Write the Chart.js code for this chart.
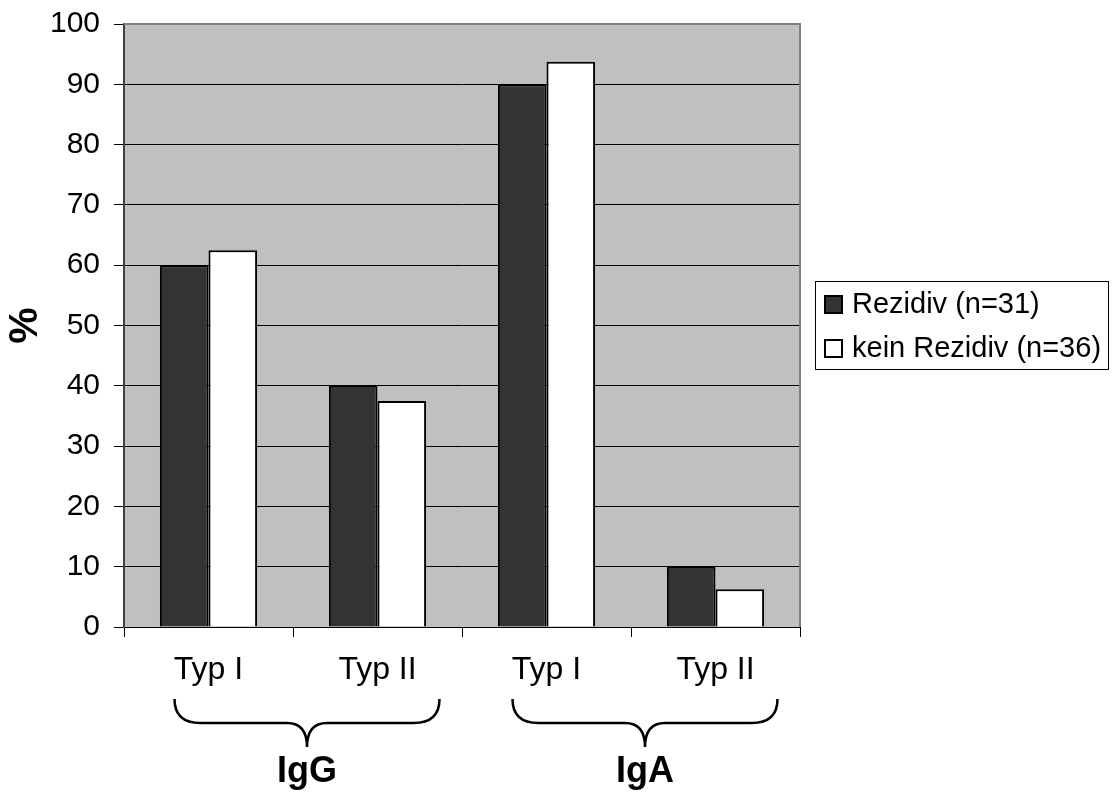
<!DOCTYPE html>
<html>
<head>
<meta charset="utf-8">
<script src="https://cdn.jsdelivr.net/npm/chart.js@4/dist/chart.umd.min.js"></script>
<style>
  body { margin: 0; background: #fff; }
  canvas { display: block; }
</style>
</head>
<body>
<canvas id="chart" width="1112" height="793"></canvas>
<script>
// data
const categories = ['Typ I', 'Typ II', 'Typ I', 'Typ II'];
const groupLabels = ['IgG', 'IgA']; // each spans two categories
const rezidiv = [60, 40, 90, 10];
const keinRezidiv = [62.5, 37.5, 93.75, 6.25];
const seriesNames = ['Rezidiv (n=31)', 'kein Rezidiv (n=36)'];
const yTickValues = [0, 10, 20, 30, 40, 50, 60, 70, 80, 90, 100];

const FONT = '"Liberation Sans", Arial, sans-serif';

// grey plot area with the Excel-like border on top and right
const plotArea = {
  id: 'plotArea',
  beforeDraw(chart) {
    const { ctx, chartArea: a } = chart;
    ctx.save();
    ctx.fillStyle = '#c0c0c0';
    ctx.fillRect(a.left, a.top, a.right - a.left, a.bottom - a.top);
    ctx.restore();
  },
  afterDatasetsDraw(chart) {
    const { ctx, chartArea: a } = chart;
    ctx.save();
    ctx.strokeStyle = '#808080';
    ctx.lineWidth = 2;
    ctx.beginPath();
    ctx.moveTo(a.left, a.top);
    ctx.lineTo(a.right, a.top);
    ctx.lineTo(a.right, a.bottom);
    ctx.stroke();
    ctx.restore();
  },
};

// curly braces + group names under the category labels
const groupBraces = {
  id: 'groupBraces',
  afterDraw(chart) {
    const { ctx } = chart;
    const x = chart.scales.x;
    ctx.save();
    ctx.strokeStyle = '#000';
    ctx.lineWidth = 2.5;
    groupLabels.forEach((name, g) => {
      const x0 = x.getPixelForValue(g * 2) - 34;
      const x1 = x.getPixelForValue(g * 2 + 1) + 62;
      const mid = (x0 + x1) / 2;
      const yTop = 699, yMid = 723, yTip = 747;
      ctx.beginPath();
      ctx.moveTo(x0, yTop);
      ctx.quadraticCurveTo(x0, yMid, x0 + 26, yMid);
      ctx.lineTo(mid - 20, yMid);
      ctx.quadraticCurveTo(mid, yMid, mid, yTip);
      ctx.quadraticCurveTo(mid, yMid, mid + 20, yMid);
      ctx.lineTo(x1 - 26, yMid);
      ctx.quadraticCurveTo(x1, yMid, x1, yTop);
      ctx.stroke();

      ctx.fillStyle = '#000';
      ctx.font = 'bold 36px ' + FONT;
      ctx.textAlign = 'center';
      ctx.textBaseline = 'middle';
      ctx.fillText(name, mid, 772);
    });
    ctx.restore();
  },
};

// boxed legend on the right
const boxLegend = {
  id: 'boxLegend',
  afterDraw(chart) {
    const { ctx } = chart;
    ctx.save();
    ctx.strokeStyle = '#000';
    ctx.lineWidth = 1;
    ctx.strokeRect(815.5, 281.5, 293, 88);
    ctx.font = '29px ' + FONT;
    ctx.textBaseline = 'middle';
    ctx.textAlign = 'left';
    chart.data.datasets.forEach((ds, i) => {
      const cy = 304 + i * 44;
      ctx.fillStyle = ds.backgroundColor;
      ctx.fillRect(825, cy - 8, 17, 17);
      ctx.strokeStyle = '#000';
      ctx.lineWidth = 2;
      ctx.strokeRect(825, cy - 8, 17, 17);
      ctx.fillStyle = '#000';
      ctx.fillText(ds.label, 852, cy + 1);
    });
    ctx.restore();
  },
};

new Chart(document.getElementById('chart'), {
  type: 'bar',
  data: {
    labels: categories,
    datasets: [
      {
        label: seriesNames[0],
        data: rezidiv,
        backgroundColor: '#333333',
        borderColor: '#000',
        borderWidth: 2,
      },
      {
        label: seriesNames[1],
        data: keinRezidiv,
        backgroundColor: '#ffffff',
        borderColor: '#000',
        borderWidth: 2,
      },
    ],
  },
  options: {
    responsive: false,
    animation: false,
    layout: { padding: { top: 24, right: 312, bottom: 0, left: 0 } },
    datasets: {
      bar: { barPercentage: 1, categoryPercentage: 0.575 },
    },
    plugins: {
      legend: { display: false },
      tooltip: { enabled: false },
    },
    scales: {
      x: {
        afterFit(scale) { scale.height = 166; },
        grid: {
          offset: true,
          drawOnChartArea: false,
          drawTicks: true,
          tickLength: 10,
          color: '#000',
        },
        border: { color: '#000', width: 1 },
        ticks: {
          color: '#000',
          font: { family: FONT, size: 32 },
          padding: 14,
          maxRotation: 0,
        },
      },
      y: {
        min: 0,
        max: 100,
        afterFit(scale) {
          scale.width = 124;
          scale.paddingTop = 0;
          scale.paddingBottom = 0;
        },
        afterBuildTicks(scale) {
          scale.ticks = yTickValues.map((v) => ({ value: v }));
        },
        grid: {
          color: '#000',
          lineWidth: 1,
          tickLength: 10,
        },
        border: { color: '#404040', width: 2 },
        ticks: {
          color: '#000',
          font: { family: FONT, size: 30 },
          padding: 14,
        },
        title: {
          display: true,
          text: '%',
          color: '#000',
          font: { family: FONT, size: 41, weight: 'bold' },
          padding: { top: 1, bottom: 0 },
        },
      },
    },
  },
  plugins: [plotArea, groupBraces, boxLegend],
});
</script>
</body>
</html>
